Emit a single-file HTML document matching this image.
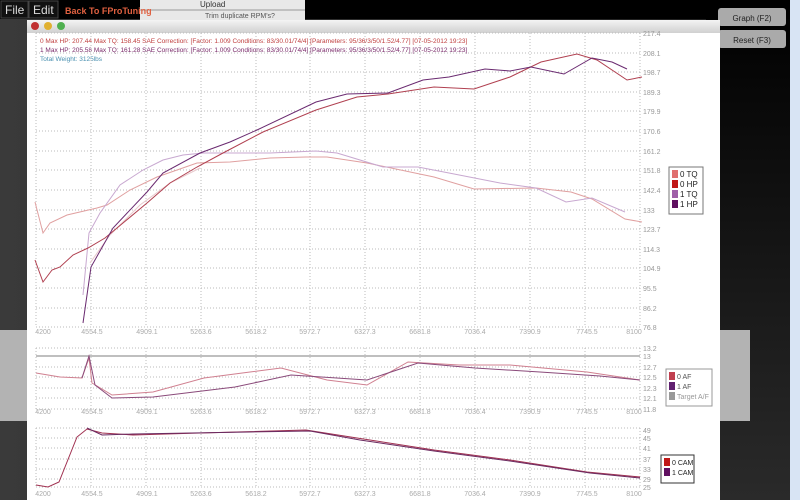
<!DOCTYPE html>
<html><head><meta charset="utf-8"><style>
html,body{margin:0;padding:0;width:800px;height:500px;overflow:hidden;background:#2e2e2e;font-family:"Liberation Sans",sans-serif}
svg{display:block}
</style></head><body>
<svg width="800" height="500" xmlns="http://www.w3.org/2000/svg" font-family="Liberation Sans, sans-serif">
<defs>
<linearGradient id="bg" x1="0" y1="0" x2="1" y2="0"><stop offset="0" stop-color="#3a3a3a"/><stop offset="1" stop-color="#1c1c1c"/></linearGradient>
<linearGradient id="rp" x1="0" y1="0" x2="0" y2="1"><stop offset="0" stop-color="#000"/><stop offset="1" stop-color="#2a2a2a"/></linearGradient>
<linearGradient id="tb" x1="0" y1="0" x2="0" y2="1"><stop offset="0" stop-color="#f4f4f4"/><stop offset="1" stop-color="#d0d0d0"/></linearGradient>
</defs>
<rect width="800" height="500" fill="url(#bg)"/>
<rect x="706" y="0" width="84" height="500" fill="url(#rp)"/>
<rect x="0" y="330" width="27" height="91" fill="#b3b3b3"/>
<rect x="720" y="330" width="30" height="91" fill="#b3b3b3"/>
<rect x="0" y="0" width="800" height="19" fill="#000"/>
<rect x="140" y="0" width="165" height="20" fill="#e8e8e8"/>
<line x1="140" y1="10" x2="305" y2="10" stroke="#999"/>
<text x="200" y="7" font-size="8" fill="#333">Upload</text>
<text x="205" y="18" font-size="7" fill="#555">Trim duplicate RPM's?</text>
<rect x="1" y="1" width="27" height="17" fill="#111" stroke="#444"/>
<text x="5" y="14" font-size="12" fill="#ddd">File</text>
<rect x="29" y="1" width="29" height="17" fill="#111" stroke="#444"/>
<text x="33" y="14" font-size="12" fill="#ddd">Edit</text>
<text x="65" y="14" font-size="9" font-weight="bold" fill="#e06040">Back To FProTuning</text>
<rect x="718" y="8" width="68" height="18" rx="3" fill="#aaa"/>
<text x="752" y="21" font-size="8" fill="#222" text-anchor="middle">Graph (F2)</text>
<rect x="718" y="30" width="68" height="18" rx="3" fill="#aaa"/>
<text x="752" y="43" font-size="8" fill="#222" text-anchor="middle">Reset (F3)</text>
<rect x="790" y="0" width="10" height="500" fill="#d8e4f4"/>
<rect x="27" y="20" width="693" height="480" fill="#fff"/>
<rect x="27" y="20" width="693" height="13" fill="url(#tb)"/>
<circle cx="35" cy="26" r="4" fill="#c03030"/><circle cx="48" cy="26" r="4" fill="#e0b030"/><circle cx="61" cy="26" r="4" fill="#50b050"/>
<text x="40" y="43" font-size="6.5" fill="#c04040">0 Max HP: 207.44 Max TQ: 158.45 SAE Correction: [Factor: 1.009 Conditions: 83/30.01/74/4] [Parameters: 95/36/3/50/1.52/4.77] [07-05-2012 19:23]</text>
<text x="40" y="52" font-size="6.5" fill="#7a2a6a">1 Max HP: 205.58 Max TQ: 161.28 SAE Correction: [Factor: 1.009 Conditions: 83/30.01/74/4] [Parameters: 95/36/3/50/1.52/4.77] [07-05-2012 19:23]</text>
<text x="40" y="61" font-size="6.5" fill="#4a90b0">Total Weight: 3125lbs</text>
<g stroke="#bbb" stroke-dasharray="1,2" stroke-width="1">
<path d="M36 33H640M36 53H640M36 72H640M36 92H640M36 111H640M36 131H640M36 151H640M36 170H640M36 190H640M36 210H640M36 229H640M36 249H640M36 268H640M36 288H640M36 308H640M36 327H640"/>
<path d="M36 33V327M91 33V327M146 33V327M201 33V327M256 33V327M310 33V327M365 33V327M420 33V327M475 33V327M530 33V327M585 33V327M640 33V327"/>
<path d="M36 348H640M36 367H640M36 377H640M36 388H640M36 398H640M36 409H640"/>
<path d="M36 348V409M91 348V409M146 348V409M201 348V409M256 348V409M310 348V409M365 348V409M420 348V409M475 348V409M530 348V409M585 348V409M640 348V409"/>
<path d="M36 428H640M36 438H640M36 448H640M36 459H640M36 469H640M36 479H640M36 487H640"/>
<path d="M36 428V488M91 428V488M146 428V488M201 428V488M256 428V488M310 428V488M365 428V488M420 428V488M475 428V488M530 428V488M585 428V488M640 428V488"/>
</g>
<line x1="36" y1="356" x2="640" y2="356" stroke="#999" stroke-width="1.2"/>
<g font-size="7" fill="#999">
<text x="643" y="36">217.4</text><text x="643" y="56">208.1</text><text x="643" y="75">198.7</text><text x="643" y="95">189.3</text><text x="643" y="114">179.9</text><text x="643" y="134">170.6</text><text x="643" y="154">161.2</text><text x="643" y="173">151.8</text><text x="643" y="193">142.4</text><text x="643" y="213">133</text><text x="643" y="232">123.7</text><text x="643" y="252">114.3</text><text x="643" y="271">104.9</text><text x="643" y="291">95.5</text><text x="643" y="311">86.2</text><text x="643" y="330">76.8</text>
<text x="643" y="351">13.2</text><text x="643" y="359">13</text><text x="643" y="370">12.7</text><text x="643" y="380">12.5</text><text x="643" y="391">12.3</text><text x="643" y="401">12.1</text><text x="643" y="412">11.8</text>
<text x="643" y="433">49</text><text x="643" y="441">45</text><text x="643" y="451">41</text><text x="643" y="462">37</text><text x="643" y="472">33</text><text x="643" y="482">29</text><text x="643" y="490">25</text>
</g>
<g font-size="7" fill="#aaa" text-anchor="middle">
<g id="xl"><text x="43" y="334">4200</text><text x="92" y="334">4554.5</text><text x="147" y="334">4909.1</text><text x="201" y="334">5263.6</text><text x="256" y="334">5618.2</text><text x="310" y="334">5972.7</text><text x="365" y="334">6327.3</text><text x="420" y="334">6681.8</text><text x="475" y="334">7036.4</text><text x="530" y="334">7390.9</text><text x="587" y="334">7745.5</text><text x="634" y="334">8100</text></g>
<use href="#xl" y="80"/><use href="#xl" y="162"/>
</g>
<g fill="none" stroke-width="1">
<polyline stroke="#e0a0a0" points="35,202 43,233 50,223 67,215 97,208 107,205 130,190 157,177 197,163 230,162 270,158 306,157 327,157 367,163 434,177 474,189 536,188 571,192 592,199 625,219 642,222"/>
<polyline stroke="#c8a8d0" points="83,295 89,233 100,213 120,185 143,170 163,160 183,155 203,153 270,153 316,151 337,153 383,167 418,167 449,173 500,183 536,188 566,202 592,198 625,212"/>
<polyline stroke="#e8c8cc" points="90,263 110,235 140,205 170,183 200,168"/>
<polyline stroke="#b04050" points="35,260 43,282 52,270 60,267 73,255 88,248 105,238 123,223 147,203 170,183 197,167 223,153 263,132 316,110 357,97 388,94 434,87 474,89 510,77 541,62 577,54 597,60 627,80 642,77"/>
<polyline stroke="#6a2a70" points="83,323 91,267 113,228 147,192 163,173 200,153 230,142 257,130 316,102 347,94 388,93 423,80 449,77 485,69 510,71 531,67 564,74 592,58 612,62 627,69"/>
<polyline stroke="#d08090" points="36,373 60,377 82,378 89,358 92,383 112,395 153,392 204,378 250,372 281,368 327,380 367,385 408,362 459,365 510,365 587,372 640,380"/>
<polyline stroke="#8a4a7a" points="82,378 89,356 95,385 112,398 153,397 235,387 291,375 367,380 418,363 475,368 540,372 600,376 640,380"/>
<polyline stroke="#a03050" points="36,485 48,487 59,482 77,437 87,429 102,433 133,435 200,433 306,430 357,438 434,450 510,460 587,472 640,477"/>
<polyline stroke="#6a2a60" points="87,428 102,435 133,434 250,432 310,431 360,440 434,451 510,461 590,473 640,478"/>
</g>
<rect x="669" y="167" width="34" height="47" fill="#fff" stroke="#777"/>
<rect x="672" y="170" width="6" height="8" fill="#e07070"/><text x="680" y="177" font-size="8" fill="#222">0 TQ</text>
<rect x="672" y="180" width="6" height="8" fill="#c01818"/><text x="680" y="187" font-size="8" fill="#222">0 HP</text>
<rect x="672" y="190" width="6" height="8" fill="#a060a8"/><text x="680" y="197" font-size="8" fill="#222">1 TQ</text>
<rect x="672" y="200" width="6" height="8" fill="#601060"/><text x="680" y="207" font-size="8" fill="#222">1 HP</text>
<rect x="666" y="369" width="46" height="37" fill="#fff" stroke="#999"/>
<rect x="669" y="372" width="6" height="8" fill="#c04050"/><text x="677" y="379" font-size="7" fill="#555">0 AF</text>
<rect x="669" y="382" width="6" height="8" fill="#602070"/><text x="677" y="389" font-size="7" fill="#555">1 AF</text>
<rect x="669" y="392" width="6" height="8" fill="#999"/><text x="677" y="399" font-size="7" fill="#999">Target A/F</text>
<rect x="661" y="455" width="33" height="28" fill="#fff" stroke="#333"/>
<rect x="664" y="458" width="6" height="8" fill="#c01818"/><text x="672" y="465" font-size="7" fill="#222">0 CAM</text>
<rect x="664" y="468" width="6" height="8" fill="#601060"/><text x="672" y="475" font-size="7" fill="#222">1 CAM</text>
</svg>
</body></html>
